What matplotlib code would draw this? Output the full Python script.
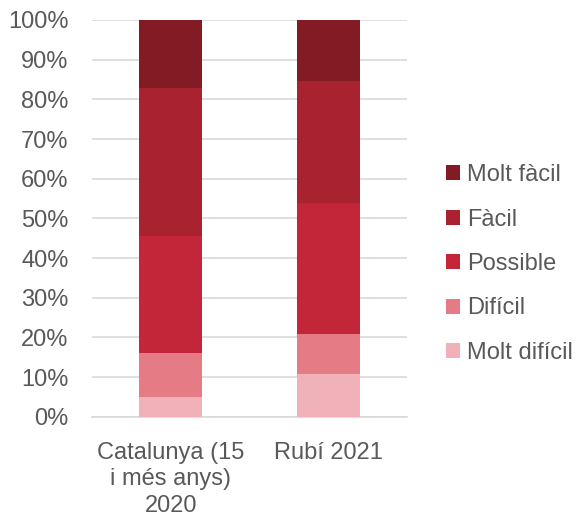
import matplotlib
matplotlib.use("Agg")
import matplotlib.pyplot as plt
from matplotlib.patches import Patch
from matplotlib.ticker import FuncFormatter

plt.rcParams['font.family'] = ['Liberation Sans', 'DejaVu Sans']

categories = ["Catalunya (15\ni més anys)\n2020", "Rubí 2021"]
series_names = ["Molt difícil", "Difícil", "Possible", "Fàcil", "Molt fàcil"]
molt_dificil = [5.0, 10.7]
dificil = [11.0, 10.1]
possible = [29.5, 33.1]
facil = [37.3, 30.7]
molt_facil = [17.2, 15.4]
colors = ["#F0B2B8", "#E57B85", "#C32638", "#A92230", "#831B24"]

series = [molt_dificil, dificil, possible, facil, molt_facil]

fig = plt.figure(figsize=(5.85, 5.19), dpi=100)
ax = fig.add_axes([92/585, 1-416.7/519, 315/585, (416.7-20)/519])

x = list(range(len(categories)))
bottom = [0.0] * len(categories)
for vals, col in zip(series, colors):
    ax.bar(x, vals, width=0.4, bottom=bottom, color=col, linewidth=0, zorder=3)
    bottom = [b + v for b, v in zip(bottom, vals)]

ax.set_xlim(-0.5, 1.5)
ax.set_ylim(0, 100)
ax.set_yticks(range(0, 101, 10))
ax.yaxis.set_major_formatter(FuncFormatter(lambda v, p: f"{int(v)}%"))
ax.set_xticks(x)
ax.set_xticklabels(categories, linespacing=1.26)
ax.grid(axis='y', color='#D9D9D9', linewidth=1.2, zorder=0)
ax.set_axisbelow(True)
for s in ['left', 'right', 'top']:
    ax.spines[s].set_visible(False)
ax.spines['bottom'].set_color('#D9D9D9')
ax.spines['bottom'].set_linewidth(1.2)
ax.tick_params(axis='both', length=0, labelsize=17, labelcolor='#595959')
ax.tick_params(axis='y', pad=17)
ax.tick_params(axis='x', pad=18)

handles = [Patch(facecolor=c, edgecolor='none') for c in colors[::-1]]
labels = series_names[::-1]
fig.legend(handles, labels, loc='center left', bbox_to_anchor=(446/585, 1-264/519),
           frameon=False, fontsize=17, labelcolor='#595959', handlelength=0.6,
           handleheight=0.6, handletextpad=0.3, labelspacing=0.95,
           borderpad=0, borderaxespad=0)

fig.savefig("out.png", dpi=100)
